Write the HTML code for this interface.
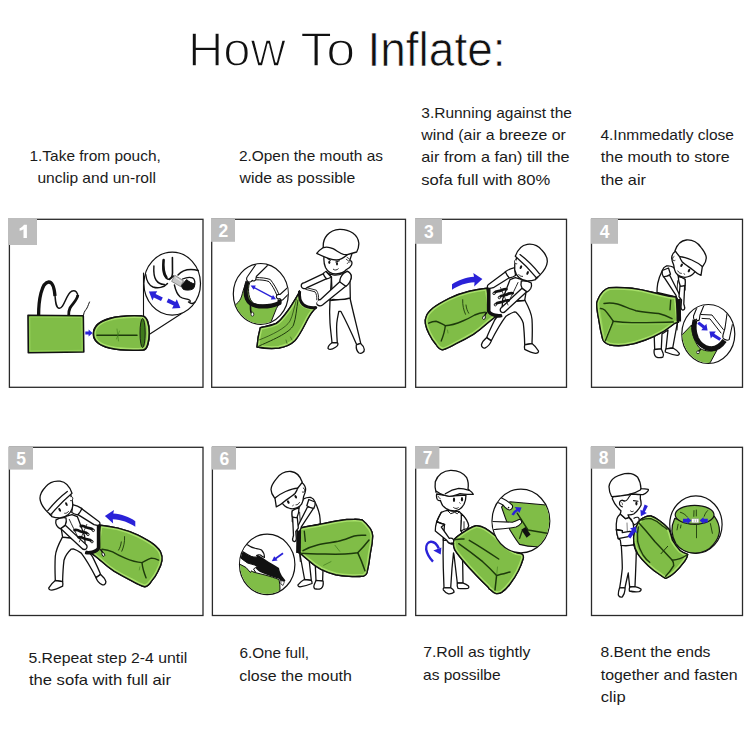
<!DOCTYPE html>
<html>
<head>
<meta charset="utf-8">
<title>How To Inflate</title>
<style>
html,body{margin:0;padding:0;background:#fff;}
body{width:750px;height:750px;overflow:hidden;font-family:"Liberation Sans",sans-serif;}
svg{display:block;}
text{font-family:"Liberation Sans",sans-serif;}
.cap text{font-size:15px;fill:#1a1a1a;}
.box{fill:none;stroke:#2a2a2a;stroke-width:1.3;}
.badge{fill:#bdbdbd;}
.num{font-weight:bold;fill:#fff;font-size:17.5px;text-anchor:middle;}
.ln{fill:none;stroke:#111;stroke-width:1.3;stroke-linecap:round;stroke-linejoin:round;}
.lw{fill:#fff;stroke:#111;stroke-width:1.3;stroke-linecap:round;stroke-linejoin:round;}
.g{fill:#80bd47;stroke:#111;stroke-width:1.4;stroke-linejoin:round;stroke-linecap:round;}
.gl{fill:none;stroke:#1d3a0c;stroke-width:1;stroke-linecap:round;stroke-linejoin:round;}
.bk{fill:#111;stroke:#111;stroke-width:1;stroke-linejoin:round;}
.bl{fill:#2a22d8;stroke:none;}
.bls{fill:none;stroke:#2a22d8;stroke-width:2.2;stroke-linecap:butt;}
</style>
</head>
<body>
<svg width="750" height="750" viewBox="0 0 750 750">
<rect width="750" height="750" fill="#fff"/>

<!-- TITLE -->
<g id="title">
<text x="188" y="66.2" font-size="48.5" fill="#111" stroke="#fff" stroke-width="1.5" textLength="98" lengthAdjust="spacingAndGlyphs">How</text>
<text x="300.3" y="66.2" font-size="48.5" fill="#111" stroke="#fff" stroke-width="1.5" textLength="55" lengthAdjust="spacingAndGlyphs">To</text>
<text x="367.5" y="66.2" font-size="48.5" fill="#111" stroke="#fff" stroke-width="0.7" textLength="138" lengthAdjust="spacingAndGlyphs">Inflate:</text>
</g>

<!-- CAPTIONS -->
<g class="cap" id="captions">
<text x="29.5" y="161" textLength="131.3" lengthAdjust="spacingAndGlyphs">1.Take from pouch,</text>
<text x="37.4" y="183.3" textLength="118.5" lengthAdjust="spacingAndGlyphs">unclip and un-roll</text>

<text x="238.9" y="161" textLength="144.1" lengthAdjust="spacingAndGlyphs">2.Open the mouth as</text>
<text x="239.5" y="183.3" textLength="115.7" lengthAdjust="spacingAndGlyphs">wide as possible</text>

<text x="421.3" y="117.8" textLength="150.6" lengthAdjust="spacingAndGlyphs">3.Running against the</text>
<text x="421.3" y="140.1" textLength="144.6" lengthAdjust="spacingAndGlyphs">wind (air a breeze or</text>
<text x="421.3" y="162.4" textLength="148.2" lengthAdjust="spacingAndGlyphs">air from a fan) till the</text>
<text x="421.3" y="184.7" textLength="129.0" lengthAdjust="spacingAndGlyphs">sofa full with 80%</text>

<text x="600.4" y="140.2" textLength="133.6" lengthAdjust="spacingAndGlyphs">4.Inmmedatly close</text>
<text x="600.8" y="162.4" textLength="128.9" lengthAdjust="spacingAndGlyphs">the mouth to store</text>
<text x="600.8" y="185" textLength="45.1" lengthAdjust="spacingAndGlyphs">the air</text>

<text x="28.4" y="662.8" textLength="158.8" lengthAdjust="spacingAndGlyphs">5.Repeat step 2-4 until</text>
<text x="28.9" y="685.1" textLength="142.2" lengthAdjust="spacingAndGlyphs">the sofa with full air</text>

<text x="239.4" y="657.8" textLength="69.7" lengthAdjust="spacingAndGlyphs">6.One full,</text>
<text x="239.3" y="680.6" textLength="112.5" lengthAdjust="spacingAndGlyphs">close the mouth</text>

<text x="423.2" y="657.3" textLength="107.2" lengthAdjust="spacingAndGlyphs">7.Roll as tightly</text>
<text x="423.0" y="680.1" textLength="77.6" lengthAdjust="spacingAndGlyphs">as possilbe</text>

<text x="600.4" y="657.4" textLength="110.1" lengthAdjust="spacingAndGlyphs">8.Bent the ends</text>
<text x="600.8" y="679.8" textLength="136.8" lengthAdjust="spacingAndGlyphs">together and fasten</text>
<text x="600.8" y="702.2" textLength="24.8" lengthAdjust="spacingAndGlyphs">clip</text>
</g>

<!-- PANEL BOXES -->
<g id="boxes">
<rect class="box" x="9.4" y="219.3" width="193.6" height="168"/>
<rect class="box" x="211.7" y="219.3" width="193.8" height="168"/>
<rect class="box" x="415.7" y="219.3" width="150.8" height="168"/>
<rect class="box" x="591.5" y="219.3" width="151" height="168"/>
<rect class="box" x="9.4" y="447.3" width="193.6" height="168.2"/>
<rect class="box" x="212.4" y="447.3" width="193.4" height="168.2"/>
<rect class="box" x="415.7" y="447.3" width="150.8" height="168.2"/>
<rect class="box" x="591.5" y="447.3" width="151" height="168.2"/>
</g>

<!-- PANELS (illustrations) -->
<g id="p1">
<!-- strap -->
<path d="M38.6,315.5 C38.6,300 41.5,282.5 48.7,282 C53.5,281.8 54.5,290 55,296" fill="none" stroke="#111" stroke-width="3.3" stroke-linecap="butt"/>
<path d="M54.8,293 C55.5,301 55.5,307.5 59,308.3 C64,309.2 66,294 71.5,291.3 C75.5,289.6 78.5,293 77.5,297" fill="none" stroke="#111" stroke-width="1.5" stroke-linecap="round"/>
<path d="M77.8,295 C77.5,300 72,304 70,308 C68.8,310.5 68.6,313 68.7,315.5" fill="none" stroke="#111" stroke-width="2.8" stroke-linecap="butt"/>
<!-- zipper pull -->
<path d="M83.5,315 C84,311 86,310 87,308 C88,306 89,303 89.5,302" class="ln" style="stroke-width:1"/>
<!-- pouch -->
<path d="M28,315.3 L83.3,315.8 L83.8,352 L28.3,352.8 Z" class="g" style="stroke-width:1.6"/>
<path d="M29.8,317 L81.8,317.5 L82.2,350.3 L30,351 Z" fill="none" stroke="#9ad65e" stroke-width="0.8"/>
<!-- small arrow -->
<path d="M85.3,331.6 L88.6,331.6 L88.6,329.6 L92.6,333 L88.6,336.4 L88.6,334.4 L85.3,334.4 Z" class="bl"/>
<!-- connector lines -->
<path d="M143.5,273 L143.5,316.5 M144.5,337.5 L182,313.3" class="ln" style="stroke-width:1.1"/>
<!-- rolled bag -->
<path d="M142,316 C120,315 93.5,318 93.5,334 C93.5,349 120,351 143,350 C147,350 149.2,342 149.2,333 C149.2,324 147,316 142,316 Z" class="g" style="stroke-width:1.6"/><clipPath id="hg1"><path d="M142,316 C120,315 93.5,318 93.5,334 C93.5,349 120,351 143,350 C147,350 149.2,342 149.2,333 C149.2,324 147,316 142,316 Z"/></clipPath><path d="M142,316 C120,315 93.5,318 93.5,334 C93.5,349 120,351 143,350 C147,350 149.2,342 149.2,333 C149.2,324 147,316 142,316 Z" clip-path="url(#hg1)" fill="none" stroke="#a8e06a" stroke-width="4.6" stroke-linejoin="round"/><path d="M142,316 C120,315 93.5,318 93.5,334 C93.5,349 120,351 143,350 C147,350 149.2,342 149.2,333 C149.2,324 147,316 142,316 Z" fill="none" stroke="#111" stroke-width="1.6" stroke-linejoin="round" stroke-linecap="round"/>
<ellipse cx="142.6" cy="333" rx="2.6" ry="14.5" fill="#3f7a1c" stroke="#111" stroke-width="0.9"/>
<path d="M97,335.3 L137,335.3" class="gl" style="stroke-width:1.5"/>
<path d="M117,329 L118.5,341 M119.5,331 L116.5,339" class="gl" style="stroke-width:0.6;stroke:#3f7a1c"/>
<!-- zoom circle -->
<ellipse cx="172.2" cy="283.6" rx="28.3" ry="31.5" class="lw" style="stroke-width:1.2"/>
<g>
<path d="M153.9,266 C153.5,272 154,277 156,280 C158,283 162,284.5 164.5,284.4" class="ln" style="stroke-width:1.4"/>
<path d="M163.6,260 C162.6,266 162.6,272 164.5,275.5 C166,278.5 168,279.5 169.2,279 C171.5,278 172.4,276 172.5,273 L172.4,257.5" class="ln" style="stroke-width:1.6"/>
<path d="M163.6,260 C163,268 164,274 166.5,277.5" class="ln" style="stroke-width:2.4"/>
<path d="M145.7,274.5 C146.5,281 149.5,285.5 153,287 C158,288.8 164,287.5 167.5,283.5" class="ln" style="stroke-width:1.4"/>
<path d="M169.5,279.5 L173.5,276" class="ln" style="stroke-width:1.6"/>
<!-- right hand -->
<path d="M178,275 C181,271.5 186,269.5 191,269.5 C194,269.5 196.5,270 198.2,270.5" class="ln" style="stroke-width:1.5"/>
<path d="M174.4,285 C175.5,290 177.5,294.5 180,296.8 C183,299.3 187,298.5 189.5,300 C191,301 190,302.5 188.5,302 C191,304 193.5,303.5 195,302" class="ln" style="stroke-width:1.4"/>
<path d="M182.5,279 C186,277.5 190,277 192.5,277.8 C195,279 195.5,283 194,286.5" class="ln" style="stroke-width:1.3"/>
<!-- clip -->
<path d="M174.8,275.2 L183.6,280.8 L180.6,286.6 L171.6,281.4 Z" fill="#c8c8c8" stroke="#555" stroke-width="0.6"/>
<path d="M175.6,277.6 L181.6,281.6" stroke="#eee" stroke-width="1" fill="none"/>
<path d="M182.2,284.6 L186.6,279.6 C189,281.8 192,283.4 194.6,284 C194.8,286 194.2,287.8 192.8,289 C190,290.4 186,290.4 183.4,289.4 L181.4,286.4 Z" class="bk"/>
</g>
<!-- blue arrows -->
<path d="M148.9,291.6 L157.2,291.2 L155.6,294 L162.8,297.4 L161,301 L153.8,297.6 L152.4,300.4 Z" class="bl"/>
<path d="M180.4,308 L172,308.4 L173.6,305.6 L166.6,302.2 L168.4,298.6 L175.4,302 L176.8,299.2 Z" class="bl"/>
</g>
<g id="p2">
<!-- bag body -->
<path d="M299.5,292 C296,298 292,305 288,310.5 C284,316 280,321.5 276,323.5 C271,325.8 265,326.5 260.3,327.7 C258.5,334 257.5,341 257,347 C264,348.3 272,349 279,348 C285,347 291,344.5 295,340.5 C300,335 304,326 308,318.5 C311,313 314,309.5 316.5,307.5 C311,308 306,307 303,304.3 C300,301.5 299,297 299.6,291 Z" class="g"/><clipPath id="hg2"><path d="M299.5,292 C296,298 292,305 288,310.5 C284,316 280,321.5 276,323.5 C271,325.8 265,326.5 260.3,327.7 C258.5,334 257.5,341 257,347 C264,348.3 272,349 279,348 C285,347 291,344.5 295,340.5 C300,335 304,326 308,318.5 C311,313 314,309.5 316.5,307.5 C311,308 306,307 303,304.3 C300,301.5 299,297 299.6,291 Z"/></clipPath><path d="M299.5,292 C296,298 292,305 288,310.5 C284,316 280,321.5 276,323.5 C271,325.8 265,326.5 260.3,327.7 C258.5,334 257.5,341 257,347 C264,348.3 272,349 279,348 C285,347 291,344.5 295,340.5 C300,335 304,326 308,318.5 C311,313 314,309.5 316.5,307.5 C311,308 306,307 303,304.3 C300,301.5 299,297 299.6,291 Z" clip-path="url(#hg2)" fill="none" stroke="#a8e06a" stroke-width="4.6" stroke-linejoin="round"/><path d="M299.5,292 C296,298 292,305 288,310.5 C284,316 280,321.5 276,323.5 C271,325.8 265,326.5 260.3,327.7 C258.5,334 257.5,341 257,347 C264,348.3 272,349 279,348 C285,347 291,344.5 295,340.5 C300,335 304,326 308,318.5 C311,313 314,309.5 316.5,307.5 C311,308 306,307 303,304.3 C300,301.5 299,297 299.6,291 Z" fill="none" stroke="#111" stroke-width="1.4" stroke-linejoin="round" stroke-linecap="round"/>
<path d="M298,300 C296.5,309 296,318 293.5,325 C290,333 270,341 258,346.5" class="gl"/>
<path d="M296.5,299 C294,308 293,315 290,321 C286,328 272,335 259,340" class="gl" style="stroke-width:0.7"/>
<path d="M286,340 L287,343.5 M290.5,337 L292,340" class="gl" style="stroke-width:0.5"/>
<!-- legs -->
<path d="M330,300.5 C329.5,308 329.5,316 330,323 C330.5,330 331.5,337 332,342.7 L337.3,342.7 C336.8,336 336.3,329 336.8,323 C337.3,318 338.3,314 338.8,311.3 L340.8,311.3 C346,321 352,334 356.7,344.7 L360.7,343.3 C357.5,329 353,312 350,298 Z" class="lw"/>
<path d="M332,342.7 C330,344 328,346.5 328,348.3 C329.5,350.3 333,349 335.5,347.3 C337.5,346 338.5,344.5 337.6,342.9 Z" class="lw"/>
<path d="M356.3,345 C356,348 357,351.5 359,353 C361.5,354 364.5,352 364.3,349.5 C364,347 362,344.5 360.6,343.4 Z" class="lw"/>
<!-- torso -->
<path d="M326,271.5 C329,275 336,276.5 343,273.5 L347.5,271.3 C350,273 351.5,275 351.3,277 C351,279.5 350,281 350,282.5 L350.3,298 C345,299.5 339,300 333,299.3 L330,300.5 L331.5,277 Z" class="lw"/>
<path d="M331.4,277 L332,291" class="ln"/>
<!-- right arm (lower, to right hand) -->
<path d="M340,281.5 L320.5,299.5 C318,299.5 316,301 316.5,303.5 C317.5,306 320.5,306.5 322.5,305 L346,286 Z" class="lw"/>
<!-- right sleeve -->
<path d="M343.5,273.5 C341,276 339.5,279 340,282 C342,283.5 344.5,285.5 346,286.3 C348.5,284.5 350.5,281.5 351.2,277.5 C351.6,274.5 349.5,272.3 347.5,271.3 Z" class="lw"/>
<!-- bag opening -->
<path d="M300,291 C301,288 303,286.5 306,287.3 L316.5,290 C318.5,293 319,296.5 318.7,299.5 L316.5,302.5 L315.5,307.3 C311,307.5 306,306 303.5,303.5 C301,300.5 299.5,296 300,291 Z" fill="#fff" stroke="none"/>
<path d="M299.6,291 C299,297 300,301.5 303,304.3 C306.5,307.3 311.5,308 316.5,307.5" fill="none" stroke="#111" stroke-width="3"/>
<path d="M305.5,287.4 L316.3,290.2 C318.3,293 318.9,296.5 318.5,299.6 M305.8,289.4 L315,291.8 C316.6,294 317,297 316.8,299.8" class="ln" style="stroke-width:0.9"/>
<!-- left arm (upper) -->
<path d="M324,273.3 L304.5,282.6 C302.5,283 301,284.5 301.3,286.3 C301.8,288.3 304,289 306,288.3 L307.5,287.3 L326.7,278.7 Z" class="lw"/>
<!-- left sleeve -->
<path d="M326,271.5 C324.5,272 323.5,273 323.3,274 C324,276 325.5,277.8 326.7,278.9 C328.3,278.6 330,277.8 331.3,277 Z" class="lw"/>
<!-- head -->
<path d="M324,256.5 C323.6,260.5 324.2,264.5 325.5,267.5 C327.5,271.5 331.5,274 336,274 C340.5,273.8 344.5,272 346.5,269.5 C348.5,268.5 350.5,267.5 351.5,265 C352.6,262.5 351.5,260.5 349.8,260.5 C350.5,258 351.5,255 352.5,252.5 L340,254 Z" class="lw"/>
<path d="M347,257.3 L349.5,259 M346.3,259.3 L348.6,261" class="ln" style="stroke-width:0.8"/>
<path d="M347.3,263.5 C348,262 349.3,261.5 350,262.3" class="ln" style="stroke-width:0.8"/>
<!-- cap -->
<path d="M323.3,247.5 C322.5,238 329,229.8 339.5,229.3 C350,229 358,235 358.8,243 C359,246.5 358,249.5 356.7,252 C353,253 349.5,254 347.3,254.7 C344,257.5 340,259.8 336.7,260 C331,260.2 322,256 316.7,253.3 C318.5,251 321,249 323.3,247.5 Z" class="lw"/>
<path d="M323.3,247.6 C326,246.7 329.5,247 333,248.7 C337,250.7 340,253.5 343.5,254.3 C345,254.6 346.3,254.7 347.3,254.7" class="ln"/>
<!-- face -->
<path d="M327.5,258.6 L330.6,260.2 M339.3,260.8 L335.8,262" class="ln" style="stroke-width:1.1"/>
<ellipse cx="329.3" cy="262.3" rx="1" ry="1.8" fill="#111"/><ellipse cx="337" cy="263.7" rx="1" ry="1.8" fill="#111"/>
<path d="M333.3,269.3 C334.5,270.5 337,270.3 338.3,268.8" class="ln" style="stroke-width:0.9"/>
<!-- zoom circle -->
<ellipse cx="260.8" cy="294" rx="27.5" ry="30.3" class="lw" style="stroke-width:1.2"/>
<clipPath id="c2"><ellipse cx="260.8" cy="294" rx="27" ry="29.8"/></clipPath>
<g clip-path="url(#c2)">
<path d="M230,306 C237,306 241,300 242.3,293.7 C243.5,289 245,285 247,281.7 L249.5,283 C247.5,290 248.5,300 254,303.5 C261,306 271,306 279,304.3 L276.5,308.3 L271,322 L262,330 L240,330 Z" fill="#80bd47" stroke="#111" stroke-width="1"/>
<path d="M247.5,281.5 C245.5,287 245,294 247,299 C249,303.5 253,305.8 259,306.3 C266,306.8 274,305.5 279.5,303 L279.7,299.7" fill="none" stroke="#111" stroke-width="4.2" stroke-linejoin="round"/>
<path d="M250.5,305 C250.5,308 250.3,311 251.3,313" fill="none" stroke="#111" stroke-width="1.6"/>
<ellipse cx="252.4" cy="314.2" rx="1.4" ry="2" fill="#fff" stroke="#111" stroke-width="0.8"/>
<!-- strap -->
<path d="M255.5,277.6 C261,277.5 266,278 270.3,279.5 C273.5,283.5 276.5,288.5 278.6,293.5 M255.8,279.8 C261,279.8 265.5,280.2 269,281.6 C272,285 274.8,290 276.6,294.6" class="ln" style="stroke-width:1"/>
<!-- left hand & arm -->
<path d="M257.5,262 L247.5,276.5 C246.3,278 246.2,280.3 247.8,281.5 C249.5,282.6 251.5,282 252.3,280.3 C253.3,281.5 255.3,281 255.8,279.3 L256.3,276.5 L268.5,264.5" class="lw" style="stroke-width:1.1"/>
<!-- right hand & arm -->
<path d="M290,285.5 L280,294.5 C278,294 276.3,295 276.3,296.8 C276.5,298.6 278.5,299.3 280,298.6 C280.3,300 282,300.6 283,299.6 L292,290.5" class="lw" style="stroke-width:1.1"/>
</g>
<!-- blue double arrow -->
<path d="M253,287 L273.5,297.8" class="bls" style="stroke-width:1.5"/>
<path d="M250.6,285.6 L255.8,285.4 L253.6,289.8 Z M276,299.2 L270.8,299.4 L273,295 Z" class="bl"/>
</g>
<g id="p3">
<!-- legs -->
<path d="M510,300 L525,300.5 C528,306 531.5,313 532,319.3 C532.5,327 532.3,336 532,343.5 L524.7,344.7 C524.5,337 524,329 523.3,323.3 C522,319 519,315 516,312.2 L514,312 C511,313 508.5,314.5 506,316.2 C500.5,323.5 495.5,332.5 491.3,340.7 L486.7,337.5 C489,331.5 492,325.5 494.7,320 L502,310 Z" class="lw"/>
<path d="M486.7,337.6 C484.5,339.5 482,342.5 481.4,344.8 C481.5,347.3 483.5,348.6 485.3,347.8 C487.5,346.8 490,344.5 491.3,340.9 Z" class="lw"/>
<path d="M524.7,344.8 C524.3,346.5 524.3,348 524.7,349.3 C528,351 532,352.8 535.5,353.3 C537.5,353.3 538.8,352.3 538.5,351 C537,348.5 534.5,345.5 532,343.6 Z" class="lw"/>
<!-- bag -->
<path d="M487,288.3 C481,289 475,290 469.3,291.2 C462,293 455,295.5 449.3,298.3 C443,301.5 437.5,304.5 433.3,307.7 C430,310.5 427.5,313 426.5,315.7 C425.2,318.5 425,321 425.4,323.7 C426,327.5 427.5,331 429.3,334.3 C431,338 433.5,341.5 436,344.5 C437.5,347 439.5,349.5 442.5,349.9 C447,348.8 451.5,346.3 456,343.7 C462,340.7 468,337.5 473.3,334.3 C478,331.2 482.5,327.5 486.7,323.7 C489.5,321.3 492.5,319 495,317 L501.5,315.5 L490.5,313 Z" class="g"/><clipPath id="hg3"><path d="M487,288.3 C481,289 475,290 469.3,291.2 C462,293 455,295.5 449.3,298.3 C443,301.5 437.5,304.5 433.3,307.7 C430,310.5 427.5,313 426.5,315.7 C425.2,318.5 425,321 425.4,323.7 C426,327.5 427.5,331 429.3,334.3 C431,338 433.5,341.5 436,344.5 C437.5,347 439.5,349.5 442.5,349.9 C447,348.8 451.5,346.3 456,343.7 C462,340.7 468,337.5 473.3,334.3 C478,331.2 482.5,327.5 486.7,323.7 C489.5,321.3 492.5,319 495,317 L501.5,315.5 L490.5,313 Z"/></clipPath><path d="M487,288.3 C481,289 475,290 469.3,291.2 C462,293 455,295.5 449.3,298.3 C443,301.5 437.5,304.5 433.3,307.7 C430,310.5 427.5,313 426.5,315.7 C425.2,318.5 425,321 425.4,323.7 C426,327.5 427.5,331 429.3,334.3 C431,338 433.5,341.5 436,344.5 C437.5,347 439.5,349.5 442.5,349.9 C447,348.8 451.5,346.3 456,343.7 C462,340.7 468,337.5 473.3,334.3 C478,331.2 482.5,327.5 486.7,323.7 C489.5,321.3 492.5,319 495,317 L501.5,315.5 L490.5,313 Z" clip-path="url(#hg3)" fill="none" stroke="#a8e06a" stroke-width="4.6" stroke-linejoin="round"/><path d="M487,288.3 C481,289 475,290 469.3,291.2 C462,293 455,295.5 449.3,298.3 C443,301.5 437.5,304.5 433.3,307.7 C430,310.5 427.5,313 426.5,315.7 C425.2,318.5 425,321 425.4,323.7 C426,327.5 427.5,331 429.3,334.3 C431,338 433.5,341.5 436,344.5 C437.5,347 439.5,349.5 442.5,349.9 C447,348.8 451.5,346.3 456,343.7 C462,340.7 468,337.5 473.3,334.3 C478,331.2 482.5,327.5 486.7,323.7 C489.5,321.3 492.5,319 495,317 L501.5,315.5 L490.5,313 Z" fill="none" stroke="#111" stroke-width="1.4" stroke-linejoin="round" stroke-linecap="round"/>
<path d="M428.7,323.2 C431,322 433.5,321.2 436,321.2 C439.5,322 442.5,324.5 445.3,325.7 C451,325.5 457,323.5 462.7,321 C467,319.2 471,317.2 474.7,315 C478,313.5 481.5,312.7 485.3,312.3" class="gl" style="stroke-width:1.4"/>
<path d="M445.3,325.7 C444.8,331 443,336.5 441.2,341" class="gl" style="stroke-width:1.4"/>
<path d="M447.5,330 L448,333" class="gl" style="stroke-width:0.6;stroke:#3f7a1c"/>
<path d="M462.7,299.7 C462.5,305 463.5,310 465.5,314.3 M466,305 C466.3,308 467.3,311 468.7,313.2" class="gl" style="stroke-width:0.9"/>
<!-- opening -->
<path d="M489,288 L500,284 L524,290 L504,313 L498,316 L490,313 Z" fill="#fff"/>
<path d="M488.7,287.6 L488.7,311 C489.5,313.5 492,314.5 495,315.3 C497.5,316 500,316 502,315.4" fill="none" stroke="#111" stroke-width="3.6" stroke-linejoin="round"/>
<path d="M487,312.3 C485.8,313.5 485,315 484.6,316" fill="none" stroke="#111" stroke-width="1.6"/>
<ellipse cx="484" cy="317.6" rx="1.3" ry="1.9" transform="rotate(20 484 317.6)" fill="#fff" stroke="#111" stroke-width="0.9"/>
<!-- torso -->
<path d="M515.3,277.7 L510,279.7 C507.5,286 505,293 502.7,299 L502,310 L516.7,301 L524.7,300.3 L526,292.3 L531,284 L527,281 Z" class="lw"/>
<path d="M518,282.5 C515.5,288 512,295 509,301" class="ln" style="stroke-width:0.9"/>
<path d="M516.7,301 L524.8,300.4" class="ln"/>
<!-- left arm (upper) -->
<path d="M506,271.5 L488.5,284.5 C487.2,285.5 487,287 488,288 C489.5,289 491.5,288.3 493.3,287.7 L509.3,277.7 Z" class="lw"/>
<path d="M514.7,267.7 C511.5,268.3 508,269.8 505.3,271.7 C506.3,274 508,276.5 509.5,277.9 C511.5,277.6 513.8,276.8 515.5,275.5 Z" class="lw"/>
<!-- right arm (lower) -->
<path d="M522,288.3 L501.5,307.5 C500,308.5 499.8,310.5 501,311.8 C502.5,313 504.3,312.6 505.5,311.3 L526.7,291.7 Z" class="lw"/>
<path d="M521.3,281 C524.5,280.5 528.5,281.3 531.3,283 C531.8,285 531.5,287 530.7,288.5 C529.8,290 528.5,291.2 527.3,291.8 C525.5,290.8 523.5,289.3 522,288 C520.8,285.6 520.8,283 521.3,281 Z" class="lw"/>
<!-- straps squiggles -->
<path d="M494,293.2 C496.5,290 498.5,292 501,290.5 C503,289.3 505,288.8 506.5,289.2" class="ln" style="stroke-width:2.7"/>
<path d="M499.3,297.3 C502,294.2 504.5,296 507,294.5 C509,293.3 511,292.8 512.7,293.2" class="ln" style="stroke-width:2.7"/>
<path d="M495.3,304.5 C498,301.3 500.5,303.2 503,301.7 C505,300.5 507,300 508.7,300.4" class="ln" style="stroke-width:2.7"/>
<circle cx="494" cy="293.6" r="1.1" fill="#fff" stroke="#111" stroke-width="0.8"/>
<circle cx="499.3" cy="297.7" r="1.1" fill="#fff" stroke="#111" stroke-width="0.8"/>
<circle cx="495.3" cy="304.9" r="1.1" fill="#fff" stroke="#111" stroke-width="0.8"/>
<path d="M500.5,287.5 L508,305" class="ln" style="stroke-width:0.8"/>
<!-- head -->
<path d="M516.5,258 C514.8,262 514.3,266 514.7,269.7 C515.3,273 517,276 519.3,277.8 C521.8,279.8 524.5,280.8 527.3,281 C530.5,281 533.5,280.5 535.5,279.7 L537.5,277 L519,255.5 Z" class="lw"/>
<path d="M516.2,259.6 C514.8,259.5 514.2,261 514.6,262.3 C515,263.5 516,264 516.8,263.8" class="lw" style="stroke-width:0.9"/>
<!-- cap -->
<path d="M515.3,256.3 C517.5,250 522,245 527.3,244.3 C533,243.6 538.5,246 542,250.3 C545.5,254 547.5,258 547.3,261.7 C547,266.5 543.5,271.5 539.3,275.7 L536.5,277.8 C530,270 522,262 515.3,256.3 Z" class="lw"/>
<path d="M520,254.6 C526.5,259.5 534,267 539.5,273.8" class="ln"/>
<path d="M535.2,278.2 C536.5,279 537.8,278.6 538.2,277.2" class="ln" style="stroke-width:0.9"/>
<!-- face -->
<ellipse cx="520.9" cy="267.2" rx="1.05" ry="2" transform="rotate(25 520.9 267.2)" fill="#111"/>
<ellipse cx="527.6" cy="273" rx="1.05" ry="2" transform="rotate(25 527.6 273)" fill="#111"/>
<path d="M518.8,274.6 C519.8,276 521.3,276.6 522.6,276.4" class="ln" style="stroke-width:0.9"/>
<!-- blue arrow -->
<path d="M452,289.8 L452,284.3 C458,280 466,277.2 474,276.7 L473.3,273 L482.4,279 L474.2,286.5 L474.5,282.3 C466,282.7 458,285.7 452,289.8 Z" class="bl"/>
</g>
<g id="p4">
<g id="p4a">
<!-- legs -->
<path d="M654,330 L654.7,349.5 L661.3,348.8 L662,334 L668,330 L666,348.8 L672.7,348 L677.5,322 Z" class="lw"/>
<path d="M654.2,349.6 C653.8,352.5 654.5,355.5 656,356.8 C658,357.8 661,357.8 662.8,357.2 C663.6,356 663.6,354.5 663.2,353.5 C662.5,351.5 661.8,350 661.3,348.9 Z" class="lw"/>
<path d="M666,348.9 C665.3,350 665.1,351 665.3,352 C669,353.5 673.5,355 677.3,355.4 C678.8,355.3 679.6,354.3 679.3,353.3 C677.5,351 675.5,349.3 673,348 Z" class="lw"/>
<!-- body back -->
<path d="M673.7,267.3 C671,266 668.5,265.6 666.3,266 C664.3,266.8 663,268.5 662.3,270.5 C660.3,274.5 658.7,279 657.7,283.5 C657.2,286.5 657,289.5 657,292.5 L676,297 L685,290 L685,279.3 L678.5,276.5 Z" class="lw"/>
<path d="M677.7,280.7 L677,290.5" class="ln" style="stroke-width:0.9"/>
</g>
<!-- bag -->
<path d="M609.3,287.7 C617,287.4 625,287.6 632,288.3 C639,289.2 646,290.7 652,292.3 C658,293.8 664,295.2 669.3,296.3 L676,297 L678.5,322 L674.7,323.3 C670.5,326.5 666,330 661.3,332.7 C656.5,335.5 651,338 645.3,340 C639,342.5 632,344.5 625.3,345.3 C620,346 614,345.8 609.3,344.7 C606,343.7 603.7,341.8 602.7,339.3 C601,333 599.7,326 598.7,319.3 C597.6,314 596.7,308.5 596.7,303.3 C597,301.8 597.3,300.8 597.7,300 C599.5,295.5 603,289.5 609.3,287.7 Z" class="g"/><clipPath id="hg4"><path d="M609.3,287.7 C617,287.4 625,287.6 632,288.3 C639,289.2 646,290.7 652,292.3 C658,293.8 664,295.2 669.3,296.3 L676,297 L678.5,322 L674.7,323.3 C670.5,326.5 666,330 661.3,332.7 C656.5,335.5 651,338 645.3,340 C639,342.5 632,344.5 625.3,345.3 C620,346 614,345.8 609.3,344.7 C606,343.7 603.7,341.8 602.7,339.3 C601,333 599.7,326 598.7,319.3 C597.6,314 596.7,308.5 596.7,303.3 C597,301.8 597.3,300.8 597.7,300 C599.5,295.5 603,289.5 609.3,287.7 Z"/></clipPath><path d="M609.3,287.7 C617,287.4 625,287.6 632,288.3 C639,289.2 646,290.7 652,292.3 C658,293.8 664,295.2 669.3,296.3 L676,297 L678.5,322 L674.7,323.3 C670.5,326.5 666,330 661.3,332.7 C656.5,335.5 651,338 645.3,340 C639,342.5 632,344.5 625.3,345.3 C620,346 614,345.8 609.3,344.7 C606,343.7 603.7,341.8 602.7,339.3 C601,333 599.7,326 598.7,319.3 C597.6,314 596.7,308.5 596.7,303.3 C597,301.8 597.3,300.8 597.7,300 C599.5,295.5 603,289.5 609.3,287.7 Z" clip-path="url(#hg4)" fill="none" stroke="#a8e06a" stroke-width="4.6" stroke-linejoin="round"/><path d="M609.3,287.7 C617,287.4 625,287.6 632,288.3 C639,289.2 646,290.7 652,292.3 C658,293.8 664,295.2 669.3,296.3 L676,297 L678.5,322 L674.7,323.3 C670.5,326.5 666,330 661.3,332.7 C656.5,335.5 651,338 645.3,340 C639,342.5 632,344.5 625.3,345.3 C620,346 614,345.8 609.3,344.7 C606,343.7 603.7,341.8 602.7,339.3 C601,333 599.7,326 598.7,319.3 C597.6,314 596.7,308.5 596.7,303.3 C597,301.8 597.3,300.8 597.7,300 C599.5,295.5 603,289.5 609.3,287.7 Z" fill="none" stroke="#111" stroke-width="1.4" stroke-linejoin="round" stroke-linecap="round"/>
<path d="M604,303.5 C608.5,302.8 613,303 617.3,304 C623.5,305.8 630,309 636,310.7 C643.5,312.3 651,312.5 658.7,313.5 C663.5,314.5 668,316.5 672,318.7" class="gl" style="stroke-width:1.5"/>
<path d="M600,308.6 C601.8,308.4 603.3,309 604.7,310 C608,313.5 610.8,317.8 613.3,321.3 C619.5,322.2 626,322.7 632,322.7 C646,322.7 660,322.3 673.3,322" class="gl" style="stroke-width:1.5"/>
<path d="M613.3,321.3 C610.8,327.5 607.8,334.5 605.3,340.7" class="gl" style="stroke-width:1.5"/>
<path d="M670.7,300.3 L670,309.7" class="gl" style="stroke-width:1.4"/>
<path d="M598.8,303.5 L604.5,339.5 M611,323 L604,341 M616,324 L671,324" fill="none" stroke="#9ad65e" stroke-width="0.7"/>
<g id="p4b">
<!-- band -->
<path d="M678.5,296.6 L678.8,321.5" fill="none" stroke="#111" stroke-width="4.6"/>
<path d="M677.6,321 L677,330" class="ln" style="stroke-width:1"/>
<!-- left arm -->
<path d="M663.7,276.7 L676,295.3 C676.5,297.5 677.2,299.5 678.8,299.8 C680.5,299.5 681,297.5 680.3,296.2 L669.7,275.3 Z" class="lw"/>
<path d="M662.3,270.5 C661.8,272.5 662.2,274.8 663.5,276.9 C665.8,276.6 668.3,275.6 670.5,274.2 L668.5,268 Z" class="lw"/>
<!-- right arm -->
<path d="M680,286 L679,296.7 L681.5,300 L681,307 C681,309 682,310.3 683.3,310 C684.8,309.5 685,308 684.5,306.5 L683.8,304 L684.7,285.3 Z" class="lw"/>
<path d="M678.3,276.7 C680.5,277 683,278 685,279.3 C685.5,281.3 685.4,283.5 685,285.4 C683.5,286 681.8,286.2 680.3,286 C679,283 678.3,279.5 678.3,276.7 Z" class="lw"/>
<!-- head -->
<path d="M675.5,251 C673,253 671.5,255.5 671.7,258.5 C672,261 672.8,263 673.7,265 C674,268 674.6,270.5 675.7,272.7 C678,275.5 681.5,277.3 685,277.3 C689,277 692.5,275 694.3,272.7 L698,268 L680,254 Z" class="lw"/>
<path d="M674,256.5 C672.7,257 672.3,258.5 672.8,259.8 C673.3,260.8 674.3,261 675,260.5" class="ln" style="stroke-width:0.9"/>
<!-- cap -->
<path d="M675,250.7 C677,245 681,240.5 686.3,240 C692,239.5 697.5,242.5 701,247.3 C704,251 706.3,254.5 706.3,258 C706.2,261 704.8,263.8 703,266 L702.3,266.8 L701,275.3 C698,274.3 695.5,272.3 693,270 C689.5,267.3 685,264.5 682.3,262 C680.8,260 680,258.3 679.7,256.7 C678.2,255 676.3,252.8 675,250.7 Z" class="lw"/>
<path d="M679.7,256.7 C683.5,257 688,258.5 691.7,260 C695.5,261.7 699.5,264 702.3,266.5" class="ln"/>
<!-- face -->
<ellipse cx="681.6" cy="265.3" rx="1.05" ry="1.9" transform="rotate(30 681.6 265.3)" fill="#111"/>
<ellipse cx="689" cy="270.6" rx="1.05" ry="1.9" transform="rotate(30 689 270.6)" fill="#111"/>
<path d="M677.8,271 C678.6,272.5 680,273.4 681.3,273.4" class="ln" style="stroke-width:0.9"/>
<path d="M684,273.5 L684.6,274.5" class="ln" style="stroke-width:0.7"/>
</g>
<!-- zoom circle -->
<ellipse cx="708.3" cy="334" rx="26.5" ry="29.5" class="lw" style="stroke-width:1.2"/>
<clipPath id="c4"><ellipse cx="708.3" cy="334" rx="26" ry="29"/></clipPath>
<g clip-path="url(#c4)">
<path d="M680,337 L691.5,325 C691.5,332 693.5,340 699,347.5 C703,351 710,352 717,350 L710,363 L700,366 L682,350 Z" fill="#80bd47" stroke="#111" stroke-width="1"/>
<path d="M695,320 C693.5,326 694,333 696.5,338.5 C699,343.5 703.5,347.5 709.5,348.6 C715,349.3 720.5,346.5 724.5,340.5" fill="none" stroke="#111" stroke-width="5" stroke-linejoin="round"/>
<path d="M701,349 L698.5,351.5" fill="none" stroke="#111" stroke-width="1.6"/>
<circle cx="698" cy="352.3" r="1.4" fill="#fff" stroke="#111" stroke-width="0.8"/>
<!-- strap -->
<path d="M701,314.5 L712,315 L723.3,329.5 M702,318.4 L710,318.9 L721,333" class="ln" style="stroke-width:1"/>
<!-- left hand -->
<path d="M704.5,304 L700,315 C699.6,317 699.6,318.6 699.2,320 C698,321.2 696.6,320.6 696.4,319 C695.4,320.3 693.8,319.8 693.6,318.2 L693.5,316 L697,307.5" class="lw" style="stroke-width:1.1"/>
<!-- right hand -->
<path d="M727,314 L725,328 L723,335 C722.5,337 723,338.6 724.4,339.3 C726,340.2 728,340.4 729.2,339.6 L732.5,324" class="lw" style="stroke-width:1.1"/>
</g>
<!-- blue arrows -->
<path d="M707.6,330.6 L701.2,330.2 L702.8,328.2 L697.2,323.8 L699.2,321.4 L704.8,325.8 L706.4,323.8 Z" class="bl"/>
<path d="M709.4,331.4 L715.8,331.6 L714.2,333.8 L721.2,338.2 L719.4,340.8 L712.4,336.4 L710.8,338.4 Z" class="bl"/>
</g>
<g id="p5"><g transform="translate(587.3,236.9) scale(-1,1)">
<!-- legs -->
<path d="M510,300 L525,300.5 C528,306 531.5,313 532,319.3 C532.5,327 532.3,336 532,343.5 L524.7,344.7 C524.5,337 524,329 523.3,323.3 C522,319 519,315 516,312.2 L514,312 C511,313 508.5,314.5 506,316.2 C500.5,323.5 495.5,332.5 491.3,340.7 L486.7,337.5 C489,331.5 492,325.5 494.7,320 L502,310 Z" class="lw"/>
<path d="M486.7,337.6 C484.5,339.5 482,342.5 481.4,344.8 C481.5,347.3 483.5,348.6 485.3,347.8 C487.5,346.8 490,344.5 491.3,340.9 Z" class="lw"/>
<path d="M524.7,344.8 C524.3,346.5 524.3,348 524.7,349.3 C528,351 532,352.8 535.5,353.3 C537.5,353.3 538.8,352.3 538.5,351 C537,348.5 534.5,345.5 532,343.6 Z" class="lw"/>
<!-- bag -->
<path d="M487,288.3 C481,289 475,290 469.3,291.2 C462,293 455,295.5 449.3,298.3 C443,301.5 437.5,304.5 433.3,307.7 C430,310.5 427.5,313 426.5,315.7 C425.2,318.5 425,321 425.4,323.7 C426,327.5 427.5,331 429.3,334.3 C431,338 433.5,341.5 436,344.5 C437.5,347 439.5,349.5 442.5,349.9 C447,348.8 451.5,346.3 456,343.7 C462,340.7 468,337.5 473.3,334.3 C478,331.2 482.5,327.5 486.7,323.7 C489.5,321.3 492.5,319 495,317 L501.5,315.5 L490.5,313 Z" class="g"/><clipPath id="hg5"><path d="M487,288.3 C481,289 475,290 469.3,291.2 C462,293 455,295.5 449.3,298.3 C443,301.5 437.5,304.5 433.3,307.7 C430,310.5 427.5,313 426.5,315.7 C425.2,318.5 425,321 425.4,323.7 C426,327.5 427.5,331 429.3,334.3 C431,338 433.5,341.5 436,344.5 C437.5,347 439.5,349.5 442.5,349.9 C447,348.8 451.5,346.3 456,343.7 C462,340.7 468,337.5 473.3,334.3 C478,331.2 482.5,327.5 486.7,323.7 C489.5,321.3 492.5,319 495,317 L501.5,315.5 L490.5,313 Z"/></clipPath><path d="M487,288.3 C481,289 475,290 469.3,291.2 C462,293 455,295.5 449.3,298.3 C443,301.5 437.5,304.5 433.3,307.7 C430,310.5 427.5,313 426.5,315.7 C425.2,318.5 425,321 425.4,323.7 C426,327.5 427.5,331 429.3,334.3 C431,338 433.5,341.5 436,344.5 C437.5,347 439.5,349.5 442.5,349.9 C447,348.8 451.5,346.3 456,343.7 C462,340.7 468,337.5 473.3,334.3 C478,331.2 482.5,327.5 486.7,323.7 C489.5,321.3 492.5,319 495,317 L501.5,315.5 L490.5,313 Z" clip-path="url(#hg5)" fill="none" stroke="#a8e06a" stroke-width="4.6" stroke-linejoin="round"/><path d="M487,288.3 C481,289 475,290 469.3,291.2 C462,293 455,295.5 449.3,298.3 C443,301.5 437.5,304.5 433.3,307.7 C430,310.5 427.5,313 426.5,315.7 C425.2,318.5 425,321 425.4,323.7 C426,327.5 427.5,331 429.3,334.3 C431,338 433.5,341.5 436,344.5 C437.5,347 439.5,349.5 442.5,349.9 C447,348.8 451.5,346.3 456,343.7 C462,340.7 468,337.5 473.3,334.3 C478,331.2 482.5,327.5 486.7,323.7 C489.5,321.3 492.5,319 495,317 L501.5,315.5 L490.5,313 Z" fill="none" stroke="#111" stroke-width="1.4" stroke-linejoin="round" stroke-linecap="round"/>
<path d="M428.7,323.2 C431,322 433.5,321.2 436,321.2 C439.5,322 442.5,324.5 445.3,325.7 C451,325.5 457,323.5 462.7,321 C467,319.2 471,317.2 474.7,315 C478,313.5 481.5,312.7 485.3,312.3" class="gl" style="stroke-width:1.4"/>
<path d="M445.3,325.7 C444.8,331 443,336.5 441.2,341" class="gl" style="stroke-width:1.4"/>
<path d="M447.5,330 L448,333" class="gl" style="stroke-width:0.6;stroke:#3f7a1c"/>
<path d="M462.7,299.7 C462.5,305 463.5,310 465.5,314.3 M466,305 C466.3,308 467.3,311 468.7,313.2" class="gl" style="stroke-width:0.9"/>
<!-- opening -->
<path d="M489,288 L500,284 L524,290 L504,313 L498,316 L490,313 Z" fill="#fff"/>
<path d="M488.7,287.6 L488.7,311 C489.5,313.5 492,314.5 495,315.3 C497.5,316 500,316 502,315.4" fill="none" stroke="#111" stroke-width="3.6" stroke-linejoin="round"/>
<path d="M487,312.3 C485.8,313.5 485,315 484.6,316" fill="none" stroke="#111" stroke-width="1.6"/>
<ellipse cx="484" cy="317.6" rx="1.3" ry="1.9" transform="rotate(20 484 317.6)" fill="#fff" stroke="#111" stroke-width="0.9"/>
<!-- torso -->
<path d="M515.3,277.7 L510,279.7 C507.5,286 505,293 502.7,299 L502,310 L516.7,301 L524.7,300.3 L526,292.3 L531,284 L527,281 Z" class="lw"/>
<path d="M518,282.5 C515.5,288 512,295 509,301" class="ln" style="stroke-width:0.9"/>
<path d="M516.7,301 L524.8,300.4" class="ln"/>
<!-- left arm (upper) -->
<path d="M506,271.5 L488.5,284.5 C487.2,285.5 487,287 488,288 C489.5,289 491.5,288.3 493.3,287.7 L509.3,277.7 Z" class="lw"/>
<path d="M514.7,267.7 C511.5,268.3 508,269.8 505.3,271.7 C506.3,274 508,276.5 509.5,277.9 C511.5,277.6 513.8,276.8 515.5,275.5 Z" class="lw"/>
<!-- right arm (lower) -->
<path d="M522,288.3 L501.5,307.5 C500,308.5 499.8,310.5 501,311.8 C502.5,313 504.3,312.6 505.5,311.3 L526.7,291.7 Z" class="lw"/>
<path d="M521.3,281 C524.5,280.5 528.5,281.3 531.3,283 C531.8,285 531.5,287 530.7,288.5 C529.8,290 528.5,291.2 527.3,291.8 C525.5,290.8 523.5,289.3 522,288 C520.8,285.6 520.8,283 521.3,281 Z" class="lw"/>
<!-- straps squiggles -->
<path d="M494,293.2 C496.5,290 498.5,292 501,290.5 C503,289.3 505,288.8 506.5,289.2" class="ln" style="stroke-width:2.7"/>
<path d="M499.3,297.3 C502,294.2 504.5,296 507,294.5 C509,293.3 511,292.8 512.7,293.2" class="ln" style="stroke-width:2.7"/>
<path d="M495.3,304.5 C498,301.3 500.5,303.2 503,301.7 C505,300.5 507,300 508.7,300.4" class="ln" style="stroke-width:2.7"/>
<circle cx="494" cy="293.6" r="1.1" fill="#fff" stroke="#111" stroke-width="0.8"/>
<circle cx="499.3" cy="297.7" r="1.1" fill="#fff" stroke="#111" stroke-width="0.8"/>
<circle cx="495.3" cy="304.9" r="1.1" fill="#fff" stroke="#111" stroke-width="0.8"/>
<path d="M500.5,287.5 L508,305" class="ln" style="stroke-width:0.8"/>
<!-- head -->
<path d="M516.5,258 C514.8,262 514.3,266 514.7,269.7 C515.3,273 517,276 519.3,277.8 C521.8,279.8 524.5,280.8 527.3,281 C530.5,281 533.5,280.5 535.5,279.7 L537.5,277 L519,255.5 Z" class="lw"/>
<path d="M516.2,259.6 C514.8,259.5 514.2,261 514.6,262.3 C515,263.5 516,264 516.8,263.8" class="lw" style="stroke-width:0.9"/>
<!-- cap -->
<path d="M515.3,256.3 C517.5,250 522,245 527.3,244.3 C533,243.6 538.5,246 542,250.3 C545.5,254 547.5,258 547.3,261.7 C547,266.5 543.5,271.5 539.3,275.7 L536.5,277.8 C530,270 522,262 515.3,256.3 Z" class="lw"/>
<path d="M520,254.6 C526.5,259.5 534,267 539.5,273.8" class="ln"/>
<path d="M535.2,278.2 C536.5,279 537.8,278.6 538.2,277.2" class="ln" style="stroke-width:0.9"/>
<!-- face -->
<ellipse cx="520.9" cy="267.2" rx="1.05" ry="2" transform="rotate(25 520.9 267.2)" fill="#111"/>
<ellipse cx="527.6" cy="273" rx="1.05" ry="2" transform="rotate(25 527.6 273)" fill="#111"/>
<path d="M518.8,274.6 C519.8,276 521.3,276.6 522.6,276.4" class="ln" style="stroke-width:0.9"/>
<!-- blue arrow -->
<path d="M452,289.8 L452,284.3 C458,280 466,277.2 474,276.7 L473.3,273 L482.4,279 L474.2,286.5 L474.5,282.3 C466,282.7 458,285.7 452,289.8 Z" class="bl"/>
</g></g>
<g id="p6">
<g transform="translate(977.3,231.5) scale(-1,1)">
<!-- legs -->
<path d="M654,330 L654.7,349.5 L661.3,348.8 L662,334 L668,330 L666,348.8 L672.7,348 L677.5,322 Z" class="lw"/>
<path d="M654.2,349.6 C653.8,352.5 654.5,355.5 656,356.8 C658,357.8 661,357.8 662.8,357.2 C663.6,356 663.6,354.5 663.2,353.5 C662.5,351.5 661.8,350 661.3,348.9 Z" class="lw"/>
<path d="M666,348.9 C665.3,350 665.1,351 665.3,352 C669,353.5 673.5,355 677.3,355.4 C678.8,355.3 679.6,354.3 679.3,353.3 C677.5,351 675.5,349.3 673,348 Z" class="lw"/>
<!-- body back -->
<path d="M673.7,267.3 C671,266 668.5,265.6 666.3,266 C664.3,266.8 663,268.5 662.3,270.5 C660.3,274.5 658.7,279 657.7,283.5 C657.2,286.5 657,289.5 657,292.5 L676,297 L685,290 L685,279.3 L678.5,276.5 Z" class="lw"/>
<path d="M677.7,280.7 L677,290.5" class="ln" style="stroke-width:0.9"/>
</g>
<!-- bag -->
<path d="M300.3,528 C306,526.5 312,525.5 318.3,524.7 C325,523.3 332,521.8 338.3,520.7 C344,519.8 349.5,519.3 354.3,519.3 C357.5,519.2 360,519.5 362.3,520 C365.5,522.5 368,525.5 370.3,528.7 C371.8,531 372.6,533.5 372.7,536 C372.5,542 371.5,548 370.3,553.3 C369.5,560 368.3,567 367,572.7 C366.3,574.5 365.2,575.6 363.7,576 C359,576.6 354,576.6 349,576.3 C344.5,576 340,575.5 335.7,574.7 C330.5,573.5 325.5,571.5 321,569.3 C316.5,566.8 312.5,564 309,560.7 C305.5,558 302.5,555.5 300.3,553.3 L297.5,552 L297.8,530 Z" class="g"/><clipPath id="hg6"><path d="M300.3,528 C306,526.5 312,525.5 318.3,524.7 C325,523.3 332,521.8 338.3,520.7 C344,519.8 349.5,519.3 354.3,519.3 C357.5,519.2 360,519.5 362.3,520 C365.5,522.5 368,525.5 370.3,528.7 C371.8,531 372.6,533.5 372.7,536 C372.5,542 371.5,548 370.3,553.3 C369.5,560 368.3,567 367,572.7 C366.3,574.5 365.2,575.6 363.7,576 C359,576.6 354,576.6 349,576.3 C344.5,576 340,575.5 335.7,574.7 C330.5,573.5 325.5,571.5 321,569.3 C316.5,566.8 312.5,564 309,560.7 C305.5,558 302.5,555.5 300.3,553.3 L297.5,552 L297.8,530 Z"/></clipPath><path d="M300.3,528 C306,526.5 312,525.5 318.3,524.7 C325,523.3 332,521.8 338.3,520.7 C344,519.8 349.5,519.3 354.3,519.3 C357.5,519.2 360,519.5 362.3,520 C365.5,522.5 368,525.5 370.3,528.7 C371.8,531 372.6,533.5 372.7,536 C372.5,542 371.5,548 370.3,553.3 C369.5,560 368.3,567 367,572.7 C366.3,574.5 365.2,575.6 363.7,576 C359,576.6 354,576.6 349,576.3 C344.5,576 340,575.5 335.7,574.7 C330.5,573.5 325.5,571.5 321,569.3 C316.5,566.8 312.5,564 309,560.7 C305.5,558 302.5,555.5 300.3,553.3 L297.5,552 L297.8,530 Z" clip-path="url(#hg6)" fill="none" stroke="#a8e06a" stroke-width="4.6" stroke-linejoin="round"/><path d="M300.3,528 C306,526.5 312,525.5 318.3,524.7 C325,523.3 332,521.8 338.3,520.7 C344,519.8 349.5,519.3 354.3,519.3 C357.5,519.2 360,519.5 362.3,520 C365.5,522.5 368,525.5 370.3,528.7 C371.8,531 372.6,533.5 372.7,536 C372.5,542 371.5,548 370.3,553.3 C369.5,560 368.3,567 367,572.7 C366.3,574.5 365.2,575.6 363.7,576 C359,576.6 354,576.6 349,576.3 C344.5,576 340,575.5 335.7,574.7 C330.5,573.5 325.5,571.5 321,569.3 C316.5,566.8 312.5,564 309,560.7 C305.5,558 302.5,555.5 300.3,553.3 L297.5,552 L297.8,530 Z" fill="none" stroke="#111" stroke-width="1.4" stroke-linejoin="round" stroke-linecap="round"/>
<path d="M303,550.7 C307.5,548 313,546 318.3,544.7 C325,543.3 332,542.5 338.3,541.3 C344,540 349.5,537.5 354.3,536 C358,535 362,535 365.7,535.3" class="gl" style="stroke-width:1.5"/>
<path d="M300.3,553.3 C308,554 317,554 325,554 C332,554.2 339,554.2 345,554 C349.5,553.8 354,553.3 357.7,552.7 C361.5,549 365.5,544.5 369,540" class="gl" style="stroke-width:1.5"/>
<path d="M357.7,552.7 C360.5,558.5 363,565 365,570.7" class="gl" style="stroke-width:1.5"/>
<path d="M304.3,531.3 L305.3,541.3" class="gl" style="stroke-width:1.4"/>
<path d="M335,545.3 L339.7,551.3 M323.7,565.3 L331,561.6" class="gl" style="stroke-width:0.7;stroke:#3f7a1c"/>
<g transform="translate(977.3,231.5) scale(-1,1)">
<!-- band -->
<path d="M678.5,296.6 L678.8,321.5" fill="none" stroke="#111" stroke-width="4.6"/>
<path d="M677.6,321 L677,330" class="ln" style="stroke-width:1"/>
<!-- left arm -->
<path d="M663.7,276.7 L676,295.3 C676.5,297.5 677.2,299.5 678.8,299.8 C680.5,299.5 681,297.5 680.3,296.2 L669.7,275.3 Z" class="lw"/>
<path d="M662.3,270.5 C661.8,272.5 662.2,274.8 663.5,276.9 C665.8,276.6 668.3,275.6 670.5,274.2 L668.5,268 Z" class="lw"/>
<!-- right arm -->
<path d="M680,286 L679,296.7 L681.5,300 L681,307 C681,309 682,310.3 683.3,310 C684.8,309.5 685,308 684.5,306.5 L683.8,304 L684.7,285.3 Z" class="lw"/>
<path d="M678.3,276.7 C680.5,277 683,278 685,279.3 C685.5,281.3 685.4,283.5 685,285.4 C683.5,286 681.8,286.2 680.3,286 C679,283 678.3,279.5 678.3,276.7 Z" class="lw"/>
<!-- head -->
<path d="M675.5,251 C673,253 671.5,255.5 671.7,258.5 C672,261 672.8,263 673.7,265 C674,268 674.6,270.5 675.7,272.7 C678,275.5 681.5,277.3 685,277.3 C689,277 692.5,275 694.3,272.7 L698,268 L680,254 Z" class="lw"/>
<path d="M674,256.5 C672.7,257 672.3,258.5 672.8,259.8 C673.3,260.8 674.3,261 675,260.5" class="ln" style="stroke-width:0.9"/>
<!-- cap -->
<path d="M675,250.7 C677,245 681,240.5 686.3,240 C692,239.5 697.5,242.5 701,247.3 C704,251 706.3,254.5 706.3,258 C706.2,261 704.8,263.8 703,266 L702.3,266.8 L701,275.3 C698,274.3 695.5,272.3 693,270 C689.5,267.3 685,264.5 682.3,262 C680.8,260 680,258.3 679.7,256.7 C678.2,255 676.3,252.8 675,250.7 Z" class="lw"/>
<path d="M679.7,256.7 C683.5,257 688,258.5 691.7,260 C695.5,261.7 699.5,264 702.3,266.5" class="ln"/>
<!-- face -->
<ellipse cx="681.6" cy="265.3" rx="1.05" ry="1.9" transform="rotate(30 681.6 265.3)" fill="#111"/>
<ellipse cx="689" cy="270.6" rx="1.05" ry="1.9" transform="rotate(30 689 270.6)" fill="#111"/>
<path d="M677.8,271 C678.6,272.5 680,273.4 681.3,273.4" class="ln" style="stroke-width:0.9"/>
<path d="M684,273.5 L684.6,274.5" class="ln" style="stroke-width:0.7"/>
</g>
<!-- zoom circle -->
<ellipse cx="267.2" cy="564.4" rx="27.7" ry="30.2" class="lw" style="stroke-width:1.2"/>
<clipPath id="c6"><ellipse cx="267.2" cy="564.4" rx="27.2" ry="29.7"/></clipPath>
<g clip-path="url(#c6)">
<path d="M238,563.5 C241.5,564 245,566 248,568 C250.5,570 252.5,571.5 255,572.5 C258.5,573.5 262,574.2 265,575 C270,576.3 275,578 279,579.5 C279.8,582.5 280,586 280,589 L278,598 L238,598 Z" fill="#80bd47" stroke="#111" stroke-width="1"/>
<!-- black band -->
<path d="M243,551.5 C245.5,553 248,555 250,556 C252.5,556.3 255.5,555.3 258,555 C261.5,557 265.5,559.5 269,562 C272.5,564 276,566 279,568 C279.5,571 280.5,573.5 282,576 L285.5,580.5 L282,583 L279,578.7 C276,578 273,577 270,576 C266.5,574.8 263,573.5 260,572 C257.5,570.5 255.5,568 254,566 C251,565.8 248,565 245,564 C243,562.8 241,561.3 240,560 L238.5,556 Z" fill="#111"/>
<!-- upper hand -->
<path d="M247,544.5 C249.5,546.5 252.5,547.8 256,548.5 C258,548.8 260,549 261.5,550 C263.5,552 264.5,554.5 264.5,557.5 C263,557 261.5,556 260.5,555 C259,554.6 257.5,554.8 256.5,555.4 L258.5,557 C256,557.4 253.5,557 251,556.2 C248,555 245.5,553.5 243,551.8 L240,549 Z" class="lw" style="stroke-width:1.1"/>
<!-- lower hand -->
<path d="M238,556 C241.5,558.5 244.5,561 247.5,563 C250,564 252.5,564.2 254.5,565 L257.5,566.8 C256,567.5 254.5,568 253.5,569 L255.5,572 C254,572.3 252.5,571.8 251.5,570.8 L250.5,572.5 C249,571 247.5,569 246,567.5 C243.5,566 240.5,564.5 238,563.5 Z" fill="#fff" stroke="#111" stroke-width="1"/>
<!-- clip -->
<path d="M281,580.5 L284.5,581.5 L283,585.5 L280.8,584 Z" fill="#fff" stroke="#111" stroke-width="0.7"/>
</g>
<!-- blue arrow -->
<path d="M283,553.2 L275,559" class="bls" style="stroke-width:1.7"/>
<path d="M271.8,561.2 L274.2,556.2 L277.6,560.6 Z" class="bl"/>
</g>
<g id="p7">
<!-- legs -->
<path d="M443.3,538 C443,548 443,558 443.3,568.3 L444,587.7 L450.7,587.7 L452,568.3 L453.5,553 L454,555 L457.3,583 L463,583 L462.7,564.3 L462,540 Z" class="lw"/>
<path d="M444,587.8 C443.2,588.3 443,589 443.3,589.8 C444.5,591.5 446.5,593.3 448.5,593.8 C450.5,594 452.8,593.3 454,592.3 C454.2,590.8 453,589.3 451.3,588.3 L450.7,587.8 Z" class="lw"/>
<path d="M457.3,583.2 C457,585 457.2,587 458,588.3 C461,588.8 465,588.8 468,588.3 C468.9,587.8 469,586.8 468.5,586 C467,584.8 465,583.8 463.2,583.2 Z" class="lw"/>
<!-- torso -->
<path d="M447,510.3 C445,510.8 443,511.5 441.3,512.3 C439.5,515.5 438,518.5 436.7,521.7 L444.5,524.5 L443.3,540.3 L462,540 L461.3,520.3 L466.7,520.3 C465,517.8 463.3,515.5 461.3,513.7 L459.3,511.7 Z" class="lw"/>
<!-- right arm (far) -->
<path d="M461.3,513.7 C463.5,515.5 465.5,518 466.7,520.3 C467.8,522 468.5,524 468.7,525.7 C468.5,527 468,527.8 467.3,528.5 L464,529.5 L460.7,531 L461.3,520.3 Z" class="lw"/>
<path d="M464,521.7 L464,529" class="ln" style="stroke-width:0.9"/>
<!-- bag -->
<path d="M453.3,540.3 C455.5,538 458.5,535.5 461.3,533.7 C466,530.3 471,527 476,525.7 C479.5,525.5 482.5,526.6 485.3,528.3 C489,530.5 492.5,533.2 496,536.3 C499.5,539.8 503,543.5 506.7,547 C510,549.5 514,552 517.5,553 C520,553.2 521.8,553.5 522.6,554.6 C523.6,556 523.5,557.5 523.2,558.5 C522,562.5 520.3,567 518.4,570.8 C516,575.5 513.2,580 510,584 C507.5,587.3 504.7,590.3 501.6,592.4 C500,593.4 498,593.8 496.2,593.6 C494.2,593 492.3,591.6 490.8,590 C489,589 488.5,587.8 488,587 C484,583.2 480,579.2 476,575 C471.5,570.5 467,565.5 462.7,560.3 C459.5,556.5 456.5,553 454.7,549.7 C453.6,546.5 453.1,543 453.3,540.3 Z" class="g"/><clipPath id="hg7"><path d="M453.3,540.3 C455.5,538 458.5,535.5 461.3,533.7 C466,530.3 471,527 476,525.7 C479.5,525.5 482.5,526.6 485.3,528.3 C489,530.5 492.5,533.2 496,536.3 C499.5,539.8 503,543.5 506.7,547 C510,549.5 514,552 517.5,553 C520,553.2 521.8,553.5 522.6,554.6 C523.6,556 523.5,557.5 523.2,558.5 C522,562.5 520.3,567 518.4,570.8 C516,575.5 513.2,580 510,584 C507.5,587.3 504.7,590.3 501.6,592.4 C500,593.4 498,593.8 496.2,593.6 C494.2,593 492.3,591.6 490.8,590 C489,589 488.5,587.8 488,587 C484,583.2 480,579.2 476,575 C471.5,570.5 467,565.5 462.7,560.3 C459.5,556.5 456.5,553 454.7,549.7 C453.6,546.5 453.1,543 453.3,540.3 Z"/></clipPath><path d="M453.3,540.3 C455.5,538 458.5,535.5 461.3,533.7 C466,530.3 471,527 476,525.7 C479.5,525.5 482.5,526.6 485.3,528.3 C489,530.5 492.5,533.2 496,536.3 C499.5,539.8 503,543.5 506.7,547 C510,549.5 514,552 517.5,553 C520,553.2 521.8,553.5 522.6,554.6 C523.6,556 523.5,557.5 523.2,558.5 C522,562.5 520.3,567 518.4,570.8 C516,575.5 513.2,580 510,584 C507.5,587.3 504.7,590.3 501.6,592.4 C500,593.4 498,593.8 496.2,593.6 C494.2,593 492.3,591.6 490.8,590 C489,589 488.5,587.8 488,587 C484,583.2 480,579.2 476,575 C471.5,570.5 467,565.5 462.7,560.3 C459.5,556.5 456.5,553 454.7,549.7 C453.6,546.5 453.1,543 453.3,540.3 Z" clip-path="url(#hg7)" fill="none" stroke="#a8e06a" stroke-width="4.6" stroke-linejoin="round"/><path d="M453.3,540.3 C455.5,538 458.5,535.5 461.3,533.7 C466,530.3 471,527 476,525.7 C479.5,525.5 482.5,526.6 485.3,528.3 C489,530.5 492.5,533.2 496,536.3 C499.5,539.8 503,543.5 506.7,547 C510,549.5 514,552 517.5,553 C520,553.2 521.8,553.5 522.6,554.6 C523.6,556 523.5,557.5 523.2,558.5 C522,562.5 520.3,567 518.4,570.8 C516,575.5 513.2,580 510,584 C507.5,587.3 504.7,590.3 501.6,592.4 C500,593.4 498,593.8 496.2,593.6 C494.2,593 492.3,591.6 490.8,590 C489,589 488.5,587.8 488,587 C484,583.2 480,579.2 476,575 C471.5,570.5 467,565.5 462.7,560.3 C459.5,556.5 456.5,553 454.7,549.7 C453.6,546.5 453.1,543 453.3,540.3 Z" fill="none" stroke="#111" stroke-width="1.4" stroke-linejoin="round" stroke-linecap="round"/>
<path d="M454.7,539.8 C457.5,539 461,538.8 464,539" class="gl" style="stroke-width:1.5"/>
<path d="M469.3,540.3 C479,546 489,552.5 498.7,559" class="gl" style="stroke-width:1.5"/>
<path d="M458.7,543.7 C467,549.5 475,555.5 482.7,561.7 C487.5,566 492,570.5 496.6,575.4" class="gl" style="stroke-width:1.5"/>
<path d="M496.6,575.4 C501,574.5 505.5,573.2 510,572 M496.6,575.4 C496,580.5 495.5,585.5 495,590" class="gl" style="stroke-width:1.5"/>
<path d="M497.5,567 L496.8,574" class="gl" style="stroke-width:0.6;stroke:#3f7a1c"/>
<!-- near arm -->
<path d="M436.7,521.7 C435.8,524.5 435.2,527.5 435.3,531 L446.7,540.3 C448,542.5 450,544 452,543.8 C453.8,543.2 454.2,541 453.3,539.3 C452.5,538.3 451,538 449.3,538.3 L441.3,527 L444.5,524.5 Z" class="lw"/>
<path d="M450.5,543 C451.5,544 453,544 453.8,543" fill="none" stroke="#111" stroke-width="1.8"/>
<path d="M441.3,512.3 C439.5,515.5 438,518.5 436.7,521.7 C439,523 442,524 444.7,524.3" class="ln"/>
<!-- head -->
<path d="M436.7,494 C436.3,496 436.5,498 437.3,499.5 C438,500.5 439.3,500.7 440.3,500.3 C441,502.3 441.8,504.2 442.7,505.7 C445.5,509 450,511 454.7,511 C458.5,510.5 462,508 464,504.3 C465.3,501.5 466,498.3 466,495 L450,496 Z" class="lw"/>
<path d="M438.2,496.3 C438.5,497.5 439.3,498.3 440.2,498.5" class="ln" style="stroke-width:0.8"/>
<!-- collar -->
<path d="M447.3,510.3 L450.7,513.7 L454.7,512.3 L457.3,513.7 L459.3,511.7" class="ln" style="stroke-width:1"/>
<!-- cap -->
<path d="M436,492.3 C435,488.5 434.8,485 435.3,481.7 C437.5,475 443.5,470.5 450.7,470.3 C457.5,470.2 463.5,473 466.7,477.7 C468.3,481 468.6,485 468,489 L469.3,490.3 C471,491.3 472.5,492.7 473.3,494.3 C469,494.8 464.5,494 460,493.7 C456.5,494.8 453,496.2 449.3,496.3 C444.5,495.8 439.5,493.5 436,491 Z" class="lw"/>
<path d="M445.3,493.7 C449.5,491 454,489 458.7,488.3 C462,488.3 466,489.2 469.3,490.3" class="ln"/>
<!-- face -->
<ellipse cx="454" cy="499.8" rx="1.1" ry="2.2" fill="#111"/>
<ellipse cx="462" cy="499.2" rx="1.1" ry="2.2" fill="#111"/>
<path d="M453.6,507.6 C455,508.8 457,508.8 458.3,507.7" class="ln" style="stroke-width:0.9"/>
<path d="M459.6,502.6 L460.2,503.4" class="ln" style="stroke-width:0.7"/>
<!-- zoom circle -->
<ellipse cx="520.9" cy="521" rx="28.9" ry="31.8" class="lw" style="stroke-width:1.2"/>
<clipPath id="c7"><ellipse cx="520.9" cy="521" rx="28.4" ry="31.3"/></clipPath>
<g clip-path="url(#c7)">
<path d="M510,501.8 L546,505 L555,520 L548,545 L536.4,546.8 C531,546.8 525,546 519.6,544.4 C516,540 513,535 510,530 C507,522.5 504,514.5 501.6,507.2 L502.8,505.5 Z" fill="#80bd47" stroke="#111" stroke-width="1.1"/>
<path d="M517.2,513.2 L528,530 L547,533.3 M522,531.2 L519.6,538.4" class="gl" style="stroke-width:1.4"/>
<path d="M521.3,529.8 L525.5,527 L530.6,534.4 L526.6,537.8 Z" fill="#111"/>
<!-- upper finger -->
<path d="M490,497 L502.2,498.2 C506,500 510,502.8 512.4,505.4 C513,507.5 512,509.5 509.5,510 C506.5,509.8 504.5,507 503,505 C501.5,504 499.5,503 498,502.4 L490,503 Z" class="lw" style="stroke-width:1.1"/>
<circle cx="508.6" cy="507.6" r="0.8" fill="#111"/>
<!-- lower hand -->
<path d="M490,521.4 L512.4,522.2 C515,521.5 517.5,520.3 519.6,519.2 C521.5,520 522,521.8 521.4,523 C520,524.8 518,526.3 516,527 C509.5,528.2 502,529 495.6,529.4 L490,529.6 Z" class="lw" style="stroke-width:1.1"/>
</g>
<!-- blue arrows -->
<path d="M512.6,515 C513.8,512.5 515.5,510.8 517.5,509.8" class="bls" style="stroke-width:2.6"/>
<path d="M514.6,507 L521.6,507.6 L519.4,513 Z" class="bl"/>
<path d="M433,561.6 C429.5,558 427,553.5 426.2,549.5 C425.8,545.5 427.5,542.2 430.7,541.8 C434,541.5 437,544.5 438.8,548.5" class="bls" style="stroke-width:2.4"/>
<path d="M433.3,550.4 L441.4,547.4 L440.7,554.6 Z" class="bl"/>
</g>
<g id="p8">
<!-- legs -->
<path d="M621.3,545.3 C621.7,553 622.3,561 622.3,568.3 C621.7,575 620.7,581.5 619.7,587.7 L625,587.7 C626,582.5 627.3,577.3 628.3,572.8 L628.3,573.7 L629.7,587 L635,586.3 C635.5,575 636,563.5 636.3,552.3 L633.7,544.7 Z" class="lw"/>
<path d="M619.6,587.8 C618.8,590 618.2,592.8 618.3,595 C619,596.8 621,597.4 622.3,597 C623.8,595 624.8,592.3 625,589.7 L625,587.8 Z" class="lw"/>
<path d="M629.7,587.2 C629.2,588.5 629.1,589.8 629.4,591 C632.5,591.8 636,592 639,591.7 C640.5,591.2 641.3,590 641,589 C639.3,587.8 637,587 635,586.6 Z" class="lw"/>
<!-- torso -->
<path d="M620.3,514 C618.8,515.3 617.7,516.8 617,518.7 C616.3,522 616.1,525.8 616.3,529.3 C616.6,532.5 617.3,535.8 618.3,538.7 L620.3,540 L621,545.3 C625,546 629.5,545.8 633.7,544.7 L634.5,533 L633,522.7 L629,517.3 L625.7,518.7 Z" class="lw"/>
<path d="M627,523 L627.3,531" class="ln" style="stroke-width:0.8;stroke:#666"/>
<!-- bag -->
<path d="M639,521.3 C640.5,519.5 642.3,518 644.3,517.3 C646.5,516.3 648.8,515.9 651,516 C654.5,517 657.5,519 660.3,521.3 C663.5,523.5 666.5,526.3 669,529.3 C670.5,532.5 671.3,536.3 672.3,540 C674.5,543.8 677.3,547.5 680.3,550.7 C682.5,552.3 685,553.5 687.7,554.3 C687.3,557 686,559.5 684.3,561.7 C681.5,565.5 678.3,569.3 675,572.3 C672,575 669,577.3 665.7,578.3 C663.8,577.5 662,576.3 660.3,575 C656,572.3 652,569.2 648.3,565.7 C644.3,562 640.5,558 637.7,553.7 C635.5,550 634.2,546 633.7,541.7 C633.4,538.5 633.7,535.2 634.3,532.3 C635.3,528.3 637,524.5 639,521.3 Z" class="g"/><clipPath id="hg8"><path d="M639,521.3 C640.5,519.5 642.3,518 644.3,517.3 C646.5,516.3 648.8,515.9 651,516 C654.5,517 657.5,519 660.3,521.3 C663.5,523.5 666.5,526.3 669,529.3 C670.5,532.5 671.3,536.3 672.3,540 C674.5,543.8 677.3,547.5 680.3,550.7 C682.5,552.3 685,553.5 687.7,554.3 C687.3,557 686,559.5 684.3,561.7 C681.5,565.5 678.3,569.3 675,572.3 C672,575 669,577.3 665.7,578.3 C663.8,577.5 662,576.3 660.3,575 C656,572.3 652,569.2 648.3,565.7 C644.3,562 640.5,558 637.7,553.7 C635.5,550 634.2,546 633.7,541.7 C633.4,538.5 633.7,535.2 634.3,532.3 C635.3,528.3 637,524.5 639,521.3 Z"/></clipPath><path d="M639,521.3 C640.5,519.5 642.3,518 644.3,517.3 C646.5,516.3 648.8,515.9 651,516 C654.5,517 657.5,519 660.3,521.3 C663.5,523.5 666.5,526.3 669,529.3 C670.5,532.5 671.3,536.3 672.3,540 C674.5,543.8 677.3,547.5 680.3,550.7 C682.5,552.3 685,553.5 687.7,554.3 C687.3,557 686,559.5 684.3,561.7 C681.5,565.5 678.3,569.3 675,572.3 C672,575 669,577.3 665.7,578.3 C663.8,577.5 662,576.3 660.3,575 C656,572.3 652,569.2 648.3,565.7 C644.3,562 640.5,558 637.7,553.7 C635.5,550 634.2,546 633.7,541.7 C633.4,538.5 633.7,535.2 634.3,532.3 C635.3,528.3 637,524.5 639,521.3 Z" clip-path="url(#hg8)" fill="none" stroke="#a8e06a" stroke-width="4.6" stroke-linejoin="round"/><path d="M639,521.3 C640.5,519.5 642.3,518 644.3,517.3 C646.5,516.3 648.8,515.9 651,516 C654.5,517 657.5,519 660.3,521.3 C663.5,523.5 666.5,526.3 669,529.3 C670.5,532.5 671.3,536.3 672.3,540 C674.5,543.8 677.3,547.5 680.3,550.7 C682.5,552.3 685,553.5 687.7,554.3 C687.3,557 686,559.5 684.3,561.7 C681.5,565.5 678.3,569.3 675,572.3 C672,575 669,577.3 665.7,578.3 C663.8,577.5 662,576.3 660.3,575 C656,572.3 652,569.2 648.3,565.7 C644.3,562 640.5,558 637.7,553.7 C635.5,550 634.2,546 633.7,541.7 C633.4,538.5 633.7,535.2 634.3,532.3 C635.3,528.3 637,524.5 639,521.3 Z" fill="none" stroke="#111" stroke-width="1.4" stroke-linejoin="round" stroke-linecap="round"/>
<path d="M639,523 C644.5,529 650,535.5 655,541.7 C661,548 667,554.5 672.3,560.3" class="gl" style="stroke-width:1.5"/>
<path d="M672.3,560.3 C677.5,559.8 682.5,558 687,555 M672.3,560.3 C673.5,562 673.8,564 673.7,565.7 C671.5,569.5 668.8,573 665.7,576.3" class="gl" style="stroke-width:1.5"/>
<path d="M661,553.7 L667.7,546.3" class="gl" style="stroke-width:1"/>
<path d="M638.3,527 C637.3,532 637.2,537 637.7,541.7 C638.7,546.5 640.5,551 643,555 C645,558 647.3,560.5 649.7,562.3" class="gl" style="stroke-width:1.4"/>
<path d="M641.7,520 C644.7,518.8 648,518.4 651,518.7 C655,520 658.5,522.5 661.7,525.3 C663.8,526.5 665.5,527.8 667,529.3" class="gl" style="stroke-width:1.4"/>
<!-- upper hand -->
<path d="M629,517.3 C631,518.5 632.5,520.5 633,522.7 L634.5,525 C636.5,523.8 638,522.3 639,520.5 C639.5,519 639,517.8 637.8,517.3 C636.3,517 635,517.5 634,518.3" class="lw" style="stroke-width:1.1"/>
<!-- near arm -->
<path d="M616.3,529.3 C616.6,532.5 617.3,535.8 618.3,538.7 L628.3,536.7 C630,536.5 631.5,535.5 632.3,534 C632.6,532.5 631.5,531.3 629.7,531.3 L622.3,532.7 L622.3,530.7 Z" class="lw"/>
<path d="M617,530 L622.3,530.7" class="ln"/>
<!-- head -->
<path d="M612.3,498.7 C613.5,501.5 615,504.3 617,506.7 C618.3,508.3 619.5,509.7 621,510.7 L620.3,514 L625.7,518.7 L629,517.3 L628,514.8 C630,515 632,514.7 633.7,514 C636.5,512 639,509 641,505.3 C641.3,503 641,500.8 640.3,498.7 L640.5,492 L614,494 Z" class="lw"/>
<path d="M624.3,501 C622.5,499.8 620.3,500.3 619.6,502.3 C619,504.5 620.3,506.6 622.4,506.8" class="ln" style="stroke-width:1.2"/>
<path d="M621.8,502.6 C622.5,503.2 622.7,504 622.4,504.8" class="ln" style="stroke-width:0.7"/>
<path d="M622.5,500.3 C624.3,501.6 626.3,501 627.6,499.2 C628.5,497.8 629.4,496.4 630.4,495.2" class="ln" style="stroke-width:1.1"/>
<!-- cap -->
<path d="M611.7,496.7 C610,493.5 609,490 609,486.7 C609.5,482.5 611.8,479.5 615,477.3 C619,474.8 623.5,473.5 628.3,473.3 C632,473.3 635.2,474.8 637.7,477.3 C639.8,480.5 640.8,484.5 641,488.7 C643.5,488.7 646,488.9 648.3,489.3 C648.6,490.2 648.3,490.8 647.7,491.3 C646.5,492.7 644.8,493.9 643,494.7 C640,494.8 636.7,494.5 633.7,494 C629,494.5 624,495.3 619.5,496 C616.8,496.4 614.2,496.7 611.7,496.7 Z" class="lw"/>
<path d="M628.3,494.7 C632.5,493.8 636.8,492.3 640.3,490 L641,488.7" class="ln"/>
<!-- face -->
<ellipse cx="636.4" cy="503.6" rx="1.05" ry="2" fill="#111"/>
<path d="M633.5,500.6 L638,501.2" class="ln" style="stroke-width:1.1"/>
<path d="M630.5,511 C631.3,511.8 632.5,511.9 633.3,511.3" class="ln" style="stroke-width:0.9"/>
<!-- zoom circle -->
<ellipse cx="695.9" cy="524.6" rx="26.2" ry="28.8" class="lw" style="stroke-width:1.2"/>
<path d="M674.7,518.5 C672.8,522.5 671.8,526.8 671.9,531 C672.3,535.5 673.7,539.8 675.9,543.5 C680,549.5 687,553 695.1,553.1 C702.5,553 709,550 713.3,544.6 C716.8,540.5 719.2,536 719.5,531 C719.5,526 717.5,520.5 714.4,516.3 L695,524 Z" fill="#80bd47" stroke="#111" stroke-width="1.2"/>
<ellipse cx="694.6" cy="514.8" rx="19.4" ry="9.4" fill="#80bd47" stroke="#111" stroke-width="1.2"/>
<path d="M680.4,512.3 C683,513 685.5,514.6 687.2,516.8 M694,510.6 L693.8,516.3 M696.3,510 L696.3,516 M707.6,510.6 C706,512.2 704.8,514.2 704.2,516.3" class="gl" style="stroke-width:0.9"/>
<path d="M696.5,524.8 L696.5,537.8 M678.1,524.2 L677,529.9 M710.4,523.6 L712.4,533.3 M681,525 L680.5,528" class="gl" style="stroke-width:0.9"/>
<rect x="691.8" y="518.8" width="7" height="4" fill="#fff" stroke="#999" stroke-width="0.5"/>
<path d="M694.2,519.5 L694.2,522 M696.4,519.5 L696.4,522" stroke="#888" stroke-width="0.6" fill="none"/>
<path d="M683,518.8 L687.4,518.8 L687.4,517 L691.4,520.6 L687.4,524.2 L687.4,522.4 L683,522.4 Z" class="bl"/>
<path d="M707.8,518.8 L703.6,518.8 L703.6,517 L699.6,520.6 L703.6,524.2 L703.6,522.4 L707.8,522.4 Z" class="bl"/>
<!-- blue arrows at character -->
<path d="M644.6,504.6 L647.9,506 L644.8,512 L646.9,513.1 L640.9,516.2 L640.4,509.8 L642.4,510.8 Z" class="bl"/>
<path d="M627.5,536.2 L630.4,538.4 L635,532 L636.9,533.4 L636,526.5 L630,528.4 L631.9,529.8 Z" class="bl"/>
</g>

<!-- BADGES -->
<g id="badges">
<rect class="badge" x="8" y="218" width="29" height="27"/><path d="M23.9,224.8 L26.9,224.8 L26.9,238 L23.5,238 L23.5,229.2 C22.4,229.9 21,230.4 19.6,230.7 L19.6,228.2 C21.4,227.7 23,226.4 23.9,224.8 Z" fill="#fff"/>
<rect class="badge" x="211" y="219" width="24" height="22.8"/><text class="num" x="223.4" y="236.6">2</text>
<rect class="badge" x="415" y="219" width="27" height="24.8"/><text class="num" x="428.8" y="238.3">3</text>
<rect class="badge" x="591" y="219" width="27" height="24.8"/><text class="num" x="604.5" y="237.9">4</text>
<rect class="badge" x="9" y="447" width="24" height="22.6"/><text class="num" x="21.2" y="465">5</text>
<rect class="badge" x="212" y="447" width="24" height="22.6"/><text class="num" x="224.4" y="465">6</text>
<rect class="badge" x="415" y="446.5" width="24.4" height="22.2"/><text class="num" x="427.7" y="464.1">7</text>
<rect class="badge" x="591" y="446.5" width="24" height="22.2"/><text class="num" x="603.7" y="464">8</text>
</g>
</svg>
</body>
</html>
